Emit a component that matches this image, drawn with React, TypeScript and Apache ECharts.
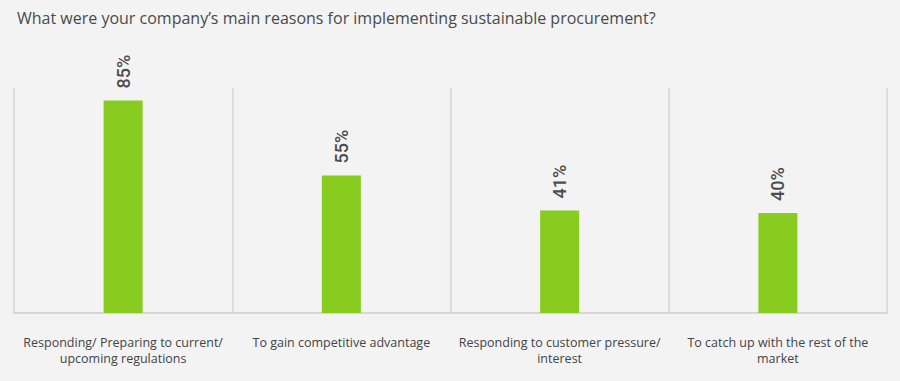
import React, { useEffect, useRef } from "react";
import * as echarts from "echarts";

const titleText = "What were your company\u2019s main reasons for implementing sustainable procurement?";
const categories = [
  "Responding/ Preparing to current/\nupcoming regulations",
  "To gain competitive advantage",
  "Responding to customer pressure/\ninterest",
  "To catch up with the rest of the\nmarket",
];
const values = [85, 55, 41, 40];

export default function App() {
  const ref = useRef<HTMLDivElement>(null);
  useEffect(() => {
    document.body.style.margin = "0";
    const chart = echarts.init(ref.current!, undefined, { renderer: "svg" });
    chart.setOption({
      animation: false,
      backgroundColor: "#f3f3f3",
      title: {
        text: titleText,
        left: 12,
        top: 5,
        textStyle: { fontFamily: "Open Sans", fontSize: 16, fontWeight: "normal", color: "#4a4a4a" },
      },
      grid: { left: 14, right: 13, top: 88, bottom: 68 },
      xAxis: {
        type: "category",
        data: categories,
        axisLine: { show: true, lineStyle: { color: "#d6d6d6", width: 2 } },
        axisTick: { show: false },
        splitLine: { show: true, interval: 0, lineStyle: { color: "#d6d6d6", width: 1.5 } },
        axisLabel: {
          interval: 0,
          margin: 21,
          lineHeight: 16,
          fontFamily: "Open Sans",
          fontSize: 12.5,
          color: "#444",
        },
      },
      yAxis: {
        type: "value",
        min: 0,
        max: 90,
        show: false,
        splitLine: { show: false },
      },
      series: [
        {
          type: "bar",
          data: values,
          barWidth: 39,
          itemStyle: { color: "#88cc1f" },
          label: {
            show: true,
            position: "top",
            rotate: 90,
            align: "left",
            verticalAlign: "middle",
            distance: 12,
            formatter: "{c}%",
            fontFamily: "Roboto",
            fontSize: 18,
            fontWeight: 500,
            color: "#4d4d4d",
          },
        },
      ],
    });
    return () => chart.dispose();
  }, []);
  return <div ref={ref} style={{ width: 900, height: 381 }} />;
}
